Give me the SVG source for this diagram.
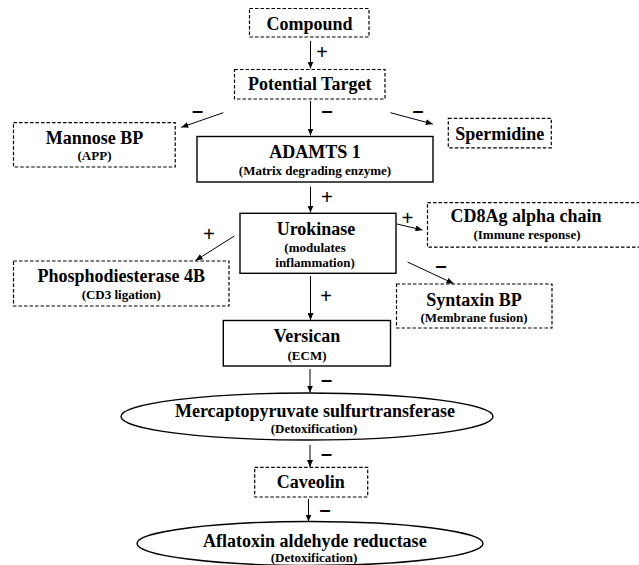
<svg xmlns="http://www.w3.org/2000/svg" width="639" height="565" viewBox="0 0 639 565">
<style>
.bg{fill:#fff}
.dash{fill:#fff;stroke:#000;stroke-width:1.2;stroke-dasharray:3.5 2}
.solid{fill:#fff;stroke:#000;stroke-width:1.4}
.t{font-family:"Liberation Serif","Times New Roman",serif;font-weight:bold;font-size:18px;text-anchor:middle;fill:#000}
.s{font-size:13px}
.plus{font-family:"Liberation Serif","Times New Roman",serif;font-weight:bold;font-size:21px;text-anchor:middle;fill:#000}
.minus{font-family:"Liberation Sans",Arial,sans-serif;font-weight:bold;font-size:20px;text-anchor:middle;fill:#000}
.conn line{stroke:#000;stroke-width:1;marker-end:url(#ah)}
</style>
<defs>
<marker id="ah" markerUnits="userSpaceOnUse" markerWidth="7" markerHeight="6" refX="7" refY="3" orient="auto">
<path d="M0,0 L7,3 L0,6 z" fill="#000"/>
</marker>
</defs>
<rect class="bg" x="0" y="0" width="639" height="565"/>
<g id="connectors" class="conn">
<line x1="310.5" y1="41" x2="310.5" y2="68.5"/>
<line x1="310.5" y1="101" x2="310.5" y2="135.5"/>
<line x1="223.3" y1="112.7" x2="181.3" y2="127.3"/>
<line x1="390.4" y1="112.7" x2="432.8" y2="124"/>
<line x1="310.5" y1="186.5" x2="310.5" y2="212.5"/>
<line x1="234.3" y1="236" x2="195.6" y2="260.5"/>
<line x1="397" y1="224" x2="422.5" y2="230"/>
<line x1="407.5" y1="262" x2="453.5" y2="283.5"/>
<line x1="310.5" y1="276" x2="310.5" y2="320"/>
<line x1="310" y1="369" x2="310" y2="392.5"/>
<line x1="310" y1="445" x2="310" y2="467"/>
<line x1="308.5" y1="499" x2="308.5" y2="521.5"/>
<text class="plus" x="322" y="59">+</text>
<text class="minus" x="327" y="117">–</text>
<text class="minus" x="197.5" y="117">–</text>
<text class="minus" x="418" y="117">–</text>
<text class="plus" x="327" y="204">+</text>
<text class="plus" x="209" y="241">+</text>
<text class="plus" x="407.5" y="225">+</text>
<text class="minus" x="441" y="272">–</text>
<text class="plus" x="326" y="303">+</text>
<text class="minus" x="326.5" y="386">–</text>
<text class="minus" x="326.5" y="460">–</text>
<text class="minus" x="325" y="516">–</text>
</g>
<g id="compound">
<rect class="dash" x="249.5" y="8.5" width="119.5" height="28.5"/>
<text class="t" x="309.5" y="29.5">Compound</text>
</g>
<g id="potential-target">
<rect class="dash" x="234.5" y="69.5" width="150.5" height="29.5"/>
<text class="t" x="309.7" y="89.8">Potential Target</text>
</g>
<g id="mannose-bp">
<rect class="dash" x="13.5" y="122.7" width="161.7" height="44.3"/>
<text class="t" x="94.5" y="143.5">Mannose BP</text>
<text class="t s" x="94.5" y="160">(APP)</text>
</g>
<g id="adamts1">
<rect class="solid" x="197" y="136.5" width="236" height="45.5"/>
<text class="t" x="315" y="157.5">ADAMTS 1</text>
<text class="t s" x="315" y="175">(Matrix degrading enzyme)</text>
</g>
<g id="spermidine">
<rect class="dash" x="448.3" y="118.3" width="103" height="29.5"/>
<text class="t" x="499.7" y="140">Spermidine</text>
</g>
<g id="urokinase">
<rect class="solid" x="240" y="213.3" width="156" height="60"/>
<text class="t" x="316" y="235">Urokinase</text>
<text class="t s" x="315" y="251.5">(modulates</text>
<text class="t s" x="315" y="266.5">inflammation)</text>
</g>
<g id="phosphodiesterase-4b">
<rect class="dash" x="13.5" y="261" width="215.5" height="45"/>
<text class="t" x="121.2" y="282">Phosphodiesterase 4B</text>
<text class="t s" x="121.2" y="299">(CD3 ligation)</text>
</g>
<g id="cd8ag-alpha-chain">
<rect class="dash" x="427.5" y="202.7" width="222" height="44.5"/>
<text class="t" x="526" y="222">CD8Ag alpha chain</text>
<text class="t s" x="527" y="238.5">(Immune response)</text>
</g>
<g id="syntaxin-bp">
<rect class="dash" x="396.5" y="284" width="155.5" height="44"/>
<text class="t" x="474" y="305.5">Syntaxin BP</text>
<text class="t s" x="474" y="322">(Membrane fusion)</text>
</g>
<g id="versican">
<rect class="solid" x="223.3" y="320.5" width="167.2" height="45.5"/>
<text class="t" x="307" y="342">Versican</text>
<text class="t s" x="307" y="360">(ECM)</text>
</g>
<g id="mercaptopyruvate-sulfurtransferase">
<ellipse class="solid" cx="307" cy="416.5" rx="186" ry="23.5"/>
<text class="t" x="315" y="417">Mercaptopyruvate sulfurtransferase</text>
<text class="t s" x="314" y="433">(Detoxification)</text>
</g>
<g id="caveolin">
<rect class="dash" x="254.7" y="467.3" width="113" height="29.7"/>
<text class="t" x="310.7" y="488">Caveolin</text>
</g>
<g id="aflatoxin-aldehyde-reductase">
<ellipse class="solid" cx="310" cy="543.5" rx="173" ry="22"/>
<text class="t" x="314.8" y="547">Aflatoxin aldehyde reductase</text>
<text class="t s" x="314" y="561.5">(Detoxification)</text>
</g>
</svg>
